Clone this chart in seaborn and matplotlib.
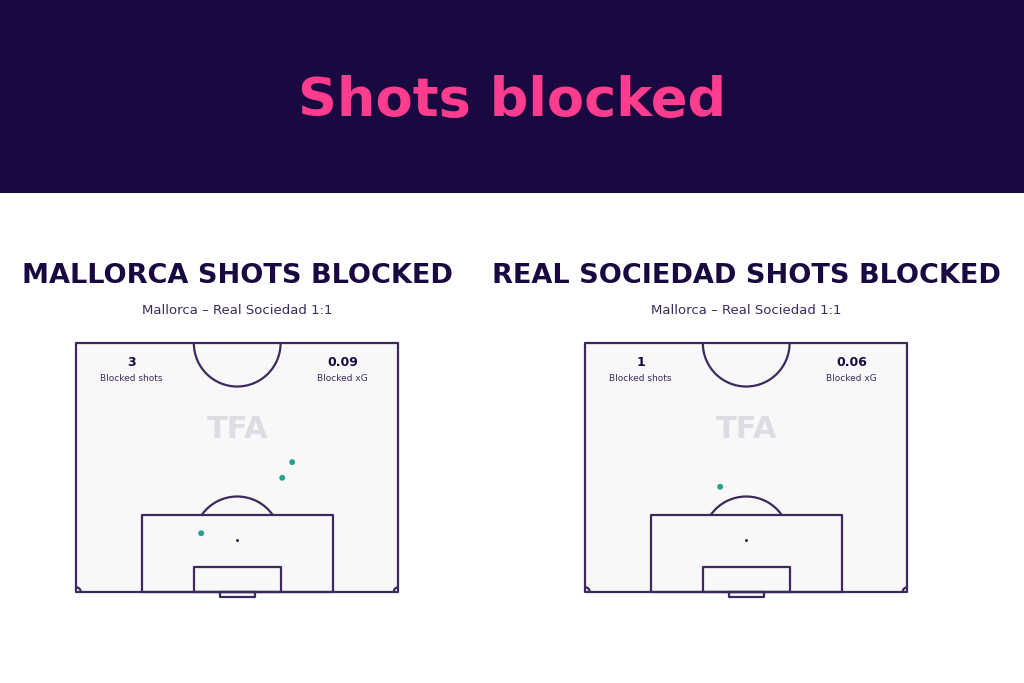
import pandas as pd
import matplotlib.pyplot as plt
import seaborn as sns
from matplotlib.patches import Rectangle, Arc

# 데이터 (x: 터치라인 기준 m, y: 골라인에서 거리 m)
teams = ['MALLORCA', 'REAL SOCIEDAD']
match_label = 'Mallorca – Real Sociedad 1:1'
blocked_shots = [3, 1]
blocked_xg = ['0.09', '0.06']
mallorca_x = [45.6, 43.5, 26.4]
mallorca_y = [27.4, 24.1, 12.4]
sociedad_x = [28.5]
sociedad_y = [22.2]

shots = pd.concat([
    pd.DataFrame({'team': 'MALLORCA', 'x': mallorca_x, 'y': mallorca_y}),
    pd.DataFrame({'team': 'REAL SOCIEDAD', 'x': sociedad_x, 'y': sociedad_y}),
])

sns.set_style('white')
plt.rcParams['font.family'] = ['DejaVu Sans']

NAVY = '#1a0840'
PINK = '#ff3c8e'
LINE = '#3c2a5c'
TEAL = '#26a08f'
PITCH = '#f8f8f9'

fig = plt.figure(figsize=(10.24, 6.83), dpi=100)
fig.patch.set_facecolor('white')

# 상단 배너
fig.patches.append(Rectangle((0, 1 - 193 / 683), 1, 193 / 683, transform=fig.transFigure,
                             facecolor=NAVY, edgecolor='none', zorder=0))
fig.text(0.5, 1 - 101 / 683, 'Shots blocked', color=PINK, fontsize=39, fontweight='bold',
         ha='center', va='center')


def draw_pitch(ax):
    kw = dict(edgecolor=LINE, linewidth=1.6, facecolor='none', joinstyle='round')
    ax.add_patch(Rectangle((0, 0), 68, 52.5, facecolor=PITCH, edgecolor=LINE,
                           linewidth=1.6, joinstyle='round', zorder=1))
    ax.add_patch(Rectangle((34 - 20.16, 0), 40.32, 16.2, zorder=2, **kw))
    ax.add_patch(Rectangle((34 - 9.16, 0), 18.32, 5.3, zorder=2, **kw))
    ax.add_patch(Rectangle((34 - 3.66, -1.0), 7.32, 1.0, zorder=2, **kw))
    ax.add_patch(Arc((34, 11), 18.3, 18.3, theta1=35.0, theta2=145.0, color=LINE, lw=1.6, zorder=2))
    ax.add_patch(Arc((34, 52.5), 18.3, 18.3, theta1=180, theta2=360, color=LINE, lw=1.6, zorder=2))
    ax.add_patch(Arc((0, 0), 2, 2, theta1=0, theta2=90, color=LINE, lw=1.6, zorder=2))
    ax.add_patch(Arc((68, 0), 2, 2, theta1=90, theta2=180, color=LINE, lw=1.6, zorder=2))
    ax.plot([34], [11], 'o', color=LINE, markersize=1.2, zorder=3)
    ax.set_xlim(-3, 71)
    ax.set_ylim(-3, 54)
    ax.set_aspect('equal')
    ax.axis('off')


lefts = [61.8 / 1024, 570.8 / 1024]
centers = [237 / 1024, 746 / 1024]
for i, team in enumerate(teams):
    ax = fig.add_axes([lefts[i], 0.1124, 0.3426, 0.3956])
    draw_pitch(ax)
    ax.text(34, 34.2, 'TFA', color='#dddbe4', fontsize=22, fontweight='bold',
            ha='center', va='center', zorder=2)
    ax.text(11.7, 48.5, str(blocked_shots[i]), color=NAVY, fontsize=9, fontweight='bold',
            ha='center', va='center', zorder=3)
    ax.text(11.7, 45.0, 'Blocked shots', color=LINE, fontsize=6.5, ha='center', va='center', zorder=3)
    ax.text(56.2, 48.5, blocked_xg[i], color=NAVY, fontsize=9, fontweight='bold',
            ha='center', va='center', zorder=3)
    ax.text(56.2, 45.0, 'Blocked xG', color=LINE, fontsize=6.5, ha='center', va='center', zorder=3)
    sns.scatterplot(data=shots[shots['team'] == team], x='x', y='y', ax=ax, color=TEAL,
                    s=18, edgecolor='none', zorder=4, legend=False)
    ax.set_xlabel('')
    ax.set_ylabel('')

    fig.text(centers[i], 1 - 276 / 683, f'{team} SHOTS BLOCKED', color=NAVY, fontsize=19.5,
             fontweight='heavy', ha='center', va='center')
    fig.text(centers[i], 1 - 311 / 683, match_label, color=LINE, fontsize=9.5,
             ha='center', va='center')

fig.savefig('out.png', dpi=100, facecolor=fig.get_facecolor())
